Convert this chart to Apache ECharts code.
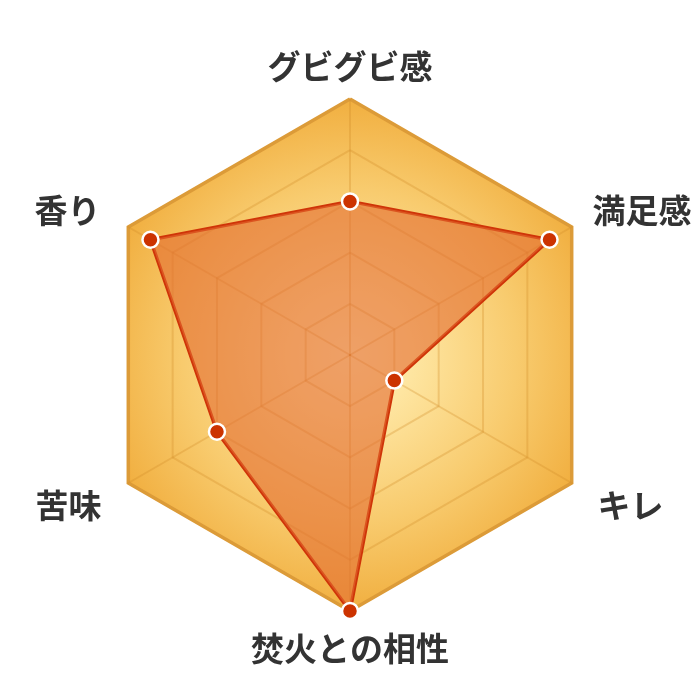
<!DOCTYPE html>
<html>
<head>
<meta charset="utf-8">
<script src="https://cdn.jsdelivr.net/npm/echarts@6/dist/echarts.min.js"></script>
<style>
html,body{margin:0;padding:0;background:#fff;}
#chart{width:700px;height:700px;}
</style>
</head>
<body>
<div id="chart"></div>
<script>
// Indicators in ECharts order (counter-clockwise from top)
const indicators = ['グビグビ感', '香り', '苦味', '焚火との相性', 'キレ', '満足感'];
const values = [3, 4.5, 3, 5, 1, 4.5];
const maxValue = 5;

// label placement style per indicator
const labelStyle = {
  'グビグビ感': 'top',
  '香り': 'ul',
  '苦味': 'll',
  '焚火との相性': 'bot',
  'キレ': 'lr',
  '満足感': 'ur'
};

const chart = echarts.init(document.getElementById('chart'));
const font = { fontSize: 33, fontWeight: 'bold', color: '#333', fontFamily: 'Noto Sans CJK JP' };
const bgGradient = {
  type: 'radial', x: 350, y: 355, r: 256, global: true,
  colorStops: [
    { offset: 0, color: '#fff0b8' },
    { offset: 0.25, color: '#fee5a0' },
    { offset: 0.65, color: '#f8cb6e' },
    { offset: 1, color: '#f1af40' }
  ]
};
const option = {
  animation: false,
  radar: [{
    center: [350, 355],
    radius: 256,
    startAngle: 90,
    splitNumber: 5,
    shape: 'polygon',
    nameGap: 16,
    indicator: indicators.map(n => ({ name: n, max: maxValue, min: 0 })),
    axisName: Object.assign({}, font, {
      formatter: n => '{' + labelStyle[n] + '|' + n + '}',
      rich: {
        top: Object.assign({}, font),
        bot: Object.assign({}, font, { padding: [5, 0, 0, 0] }),
        ul: Object.assign({}, font, { padding: [0, 14, 18, 0] }),
        ur: Object.assign({}, font, { padding: [0, 0, 18, 7] }),
        ll: Object.assign({}, font, { padding: [28, 13, 0, 0] }),
        lr: Object.assign({}, font, { padding: [28, 0, 0, 12] })
      }
    }),
    splitArea: { show: true, areaStyle: { color: [bgGradient] } },
    splitLine: { lineStyle: { color: 'rgba(210,140,40,0.3)', width: 2 } },
    axisLine: { lineStyle: { color: 'rgba(210,140,40,0.3)', width: 2 } }
  }, {
    center: [350, 355],
    radius: 256,
    startAngle: 90,
    splitNumber: 1,
    shape: 'polygon',
    indicator: indicators.map(n => ({ name: '', max: maxValue, min: 0 })),
    axisName: { show: false },
    splitArea: { show: false },
    axisLine: { show: false },
    splitLine: { lineStyle: { color: ['rgba(0,0,0,0)', '#dc9b38'], width: 3.5 } }
  }],
  series: [{
    type: 'radar',
    radarIndex: 0,
    z: 5,
    symbol: 'circle',
    symbolSize: 16,
    lineStyle: { color: '#cf3408', width: 3.5 },
    itemStyle: { color: '#cc3300', borderColor: '#ffffff', borderWidth: 2.5 },
    areaStyle: { color: 'rgba(226,106,48,0.86)' },
    data: [{ value: values }]
  }]
};
chart.setOption(option);
</script>
</body>
</html>
